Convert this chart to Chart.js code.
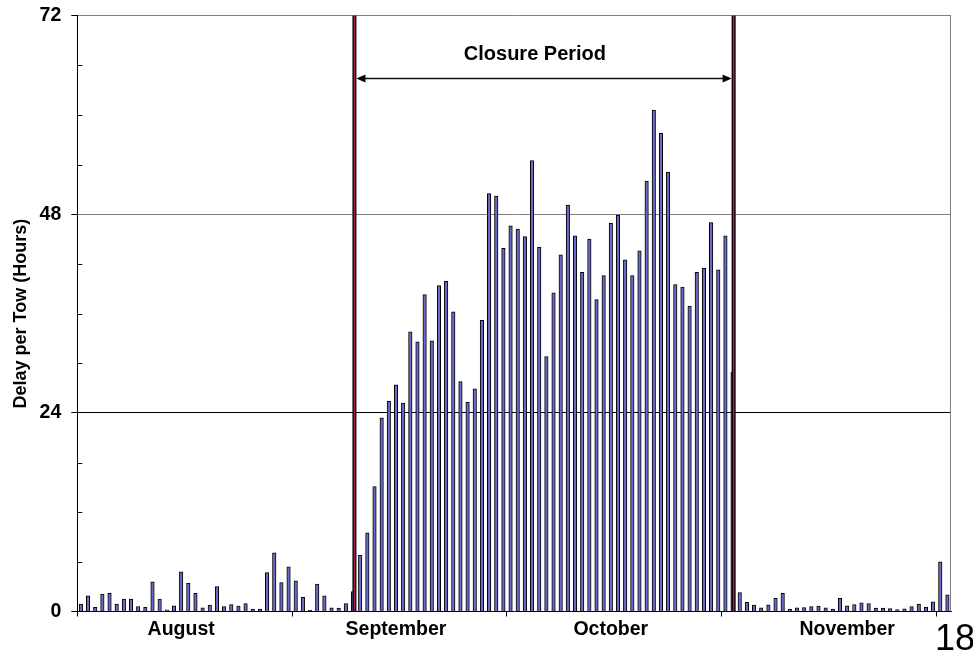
<!DOCTYPE html>
<html><head><meta charset="utf-8">
<script src="https://cdn.jsdelivr.net/npm/chart.js@4/dist/chart.umd.min.js"></script>
<style>html,body{margin:0;padding:0;background:#fff}#wrap{width:973px;height:650px;position:relative}</style>
</head><body><div id="wrap"><canvas id="c" width="973" height="650"></canvas></div>
<script>
// ---- data ----
const monthNames = ['August', 'September', 'October', 'November'];
const monthLengths = [31, 30, 31, 30];
const monthLabelDays = [14, 44, 74, 107];      // day index where each month name is shown
const monthTickEvery = 30;                      // tick mark every 30 categories
const yTickValues = [0, 24, 48, 72];
const yMinorStep = 6;
const delayHours = [
  0.9, 1.9, 0.5, 2.1, 2.2, 0.9, 1.5, 1.5, 0.6, 0.5, 3.6, 1.5, 0.2, 0.7, 4.8, 3.4, 2.2, 0.45, 0.77, 3.0,
  0.6, 0.85, 0.65, 0.97, 0.28, 0.28, 4.7, 7.1, 3.5, 5.4, 3.7, 1.7, 0.15, 3.3, 1.9, 0.45, 0.4, 0.97, 2.4, 6.8,
  9.5, 15.1, 23.4, 25.4, 27.4, 25.2, 33.8, 32.6, 38.3, 32.7, 39.4, 39.9, 36.2, 27.8, 25.3, 26.9, 35.2, 50.5, 50.2, 43.9,
  46.6, 46.2, 45.3, 54.5, 44.0, 30.8, 38.5, 43.1, 49.1, 45.4, 41.0, 45.0, 37.7, 40.6, 46.9, 47.9, 42.5, 40.6, 43.6, 52.0,
  60.6, 57.8, 53.1, 39.5, 39.2, 36.9, 41.0, 41.5, 47.0, 41.3, 45.4, 28.9,
  2.3, 1.1, 0.77, 0.44, 0.8, 1.6, 2.2, 0.28, 0.44, 0.48, 0.6, 0.65, 0.44, 0.28, 1.6, 0.7, 0.85, 1.05, 0.97, 0.4,
  0.4, 0.36, 0.24, 0.32, 0.6, 0.89, 0.52, 1.17, 6.0, 2.0
];
const closureStartDay = 38.2;
const closureEndDay = 91.15;
const closureLabel = 'Closure Period';
const closureArrowHours = 64.4;
const closureLabelHours = 67.3;
const closureLabelDay = 63.4;
const yTitle = 'Delay per Tow (Hours)';
const pageNumber = '18';

const categories = [];
monthNames.forEach((m, i) => { for (let d = 1; d <= monthLengths[i]; d++) categories.push(m.slice(0, 3) + ' ' + d); });

const FONT = "'Liberation Sans', Arial, sans-serif";

const overlay = {
  id: 'overlay',
  afterDatasetsDraw(chart) {
    const { ctx, chartArea: a, scales: { x, y } } = chart;
    const px = v => { const i = Math.floor(v), f = v - i; const p0 = x.getPixelForValue(i), p1 = x.getPixelForValue(i + 1); return p0 + (p1 - p0) * f; };
    ctx.save();
    // right border
    ctx.strokeStyle = '#808080'; ctx.lineWidth = 1;
    ctx.beginPath(); ctx.moveTo(a.right - 0.5, a.top); ctx.lineTo(a.right - 0.5, a.bottom); ctx.stroke();
    // minor ticks inside
    ctx.strokeStyle = '#000';
    for (let v = yMinorStep; v < 72; v += yMinorStep) {
      if (yTickValues.includes(v)) continue;
      const Y = Math.round(y.getPixelForValue(v)) + 0.5;
      ctx.beginPath(); ctx.moveTo(a.left, Y); ctx.lineTo(a.left + 5, Y); ctx.stroke();
    }
    // closure lines
    const xs = [closureStartDay, closureEndDay].map(px);
    xs.forEach(X => {
      ctx.fillStyle = '#000'; ctx.fillRect(X - 2, a.top, 4, a.bottom - a.top);
      ctx.fillStyle = '#a0204f'; ctx.fillRect(X - 0.75, a.top, 1.5, a.bottom - a.top);
    });
    // arrow
    const ay = y.getPixelForValue(closureArrowHours);
    const x1 = xs[0] + 2, x2 = xs[1] - 2;
    ctx.strokeStyle = '#111'; ctx.lineWidth = 1.5;
    ctx.beginPath(); ctx.moveTo(x1 + 6, ay); ctx.lineTo(x2 - 6, ay); ctx.stroke();
    ctx.fillStyle = '#000';
    ctx.beginPath(); ctx.moveTo(x1, ay); ctx.lineTo(x1 + 9, ay - 4); ctx.lineTo(x1 + 9, ay + 4); ctx.closePath(); ctx.fill();
    ctx.beginPath(); ctx.moveTo(x2, ay); ctx.lineTo(x2 - 9, ay - 4); ctx.lineTo(x2 - 9, ay + 4); ctx.closePath(); ctx.fill();
    // label
    ctx.font = 'bold 20px ' + FONT; ctx.textAlign = 'center'; ctx.textBaseline = 'middle';
    ctx.fillText(closureLabel, px(closureLabelDay), y.getPixelForValue(closureLabelHours));
    // page number
    ctx.font = '36px ' + FONT; ctx.textAlign = 'left'; ctx.textBaseline = 'alphabetic';
    ctx.fillText(pageNumber, 935, 650);
    ctx.restore();
  }
};

new Chart(document.getElementById('c'), {
  type: 'bar',
  data: {
    labels: categories,
    datasets: [{
      data: delayHours,
      backgroundColor: '#6a6ac8',
      borderColor: '#000',
      borderWidth: 1,
      borderSkipped: 'start',
      barThickness: 3.5
    }]
  },
  options: {
    responsive: false, animation: false, devicePixelRatio: 1,
    layout: { padding: { left: 0, top: 15.7, right: 22, bottom: 0 } },
    plugins: { legend: { display: false }, tooltip: { enabled: false } },
    scales: {
      x: {
        afterFit: s => { s.height = 38.5; s.paddingLeft = 0; s.paddingRight = 0; },
        grid: {
          offset: true, drawOnChartArea: false, tickLength: 5,
          tickColor: c => (c.index % monthTickEvery === 0 ? '#000' : 'rgba(0,0,0,0)')
        },
        border: { color: '#000', width: 1 },
        ticks: {
          autoSkip: false, maxRotation: 0, minRotation: 0, padding: 1,
          color: '#000', font: { family: FONT, size: 19.5, weight: 'bold' },
          callback: (v, i) => { const k = monthLabelDays.indexOf(i); return k >= 0 ? monthNames[k] : ''; }
        }
      },
      y: {
        min: 0, max: 72,
        afterFit: s => { s.width = 77.3; s.paddingTop = 0; s.paddingBottom = 0; },
        grid: {
          tickLength: 6,
          color: c => { const v = c.tick && c.tick.value; return v === 24 ? '#000' : (v === 48 || v === 72) ? '#808080' : 'rgba(0,0,0,0)'; },
          tickColor: c => (c.tick && yTickValues.includes(c.tick.value) ? '#000' : 'rgba(0,0,0,0)')
        },
        border: { color: '#000', width: 1 },
        ticks: {
          stepSize: yMinorStep, padding: 10, color: '#000',
          font: { family: FONT, size: 19.5, weight: 'bold' },
          callback: v => (yTickValues.includes(v) ? String(v) : '')
        },
        title: {
          display: true, text: yTitle, color: '#000',
          font: { family: FONT, size: 18, weight: 'bold' },
          padding: { top: 10, bottom: 0 }
        }
      }
    }
  },
  plugins: [overlay]
});
</script></body></html>
